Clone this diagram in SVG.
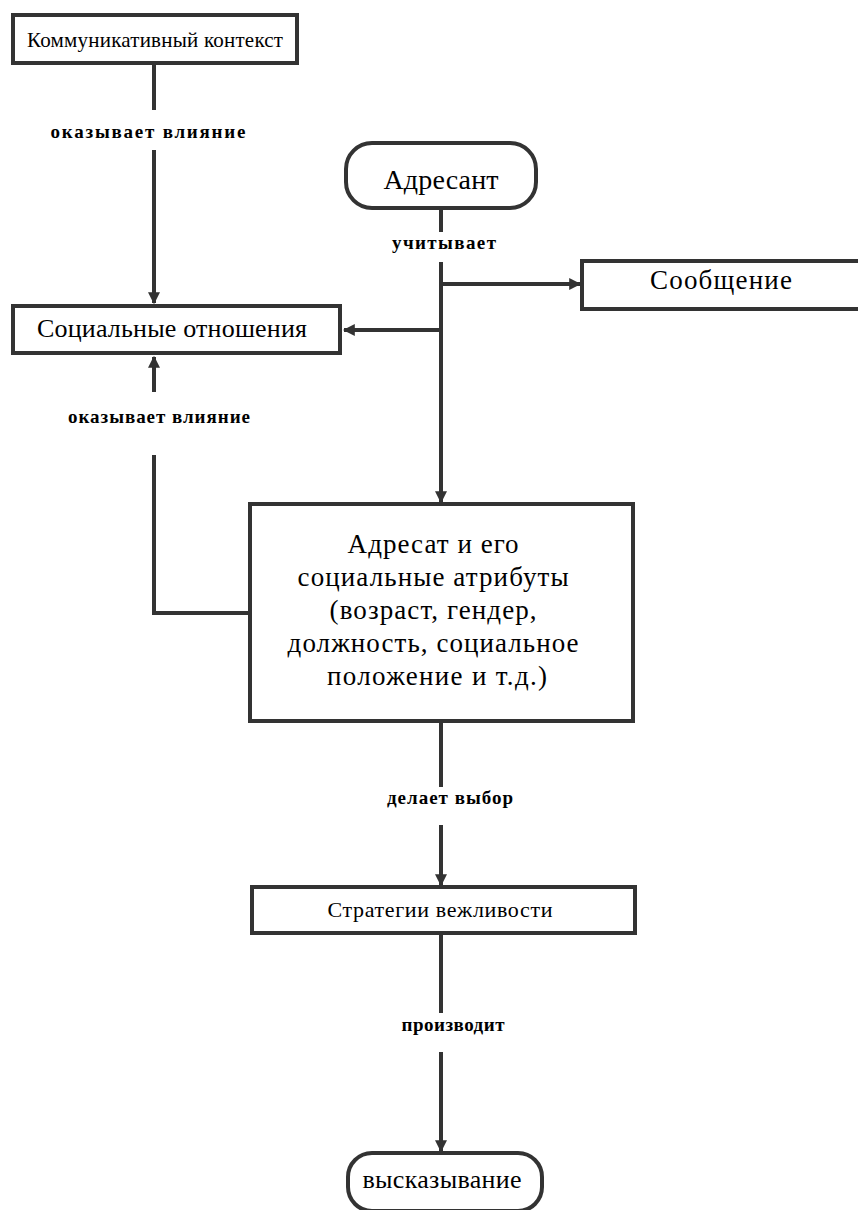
<svg xmlns="http://www.w3.org/2000/svg" width="858" height="1210" viewBox="0 0 858 1210">
<defs>
<marker id="ah" viewBox="0 0 10 10" refX="9" refY="5" markerWidth="3" markerHeight="3" orient="auto" markerUnits="strokeWidth">
<path d="M0,0 L10,5 L0,10 z" fill="#333"/>
</marker>
<style>
.box{fill:#fff;stroke:#333;stroke-width:4}
.t{fill:#000;text-anchor:middle}
.lb{font-weight:bold;fill:#000;text-anchor:middle;font-size:19px}
.c{fill:none;stroke:#333;stroke-width:4}
</style>
</defs>
<rect width="858" height="1210" fill="#fff"/>
<g font-family="'Liberation Serif', 'Times New Roman', 'DejaVu Serif', serif">
<g id="connectors">
<line class="c" x1="154" y1="63" x2="154" y2="110"/>
<line class="c" x1="154" y1="150" x2="154" y2="303" marker-end="url(#ah)"/>
<line class="c" x1="154" y1="392" x2="154" y2="357" marker-end="url(#ah)"/>
<polyline class="c" points="154,455 154,613 249,613"/>
<line class="c" x1="441" y1="208" x2="441" y2="232"/>
<line class="c" x1="441" y1="262" x2="441" y2="502" marker-end="url(#ah)"/>
<line class="c" x1="441" y1="284" x2="580" y2="284" marker-end="url(#ah)"/>
<line class="c" x1="441" y1="330" x2="344" y2="330" marker-end="url(#ah)"/>
<line class="c" x1="441" y1="722" x2="441" y2="787"/>
<line class="c" x1="441" y1="825" x2="441" y2="885" marker-end="url(#ah)"/>
<line class="c" x1="441" y1="933" x2="441" y2="1013"/>
<line class="c" x1="441" y1="1052" x2="441" y2="1151" marker-end="url(#ah)"/>
<text class="lb" x="148" y="138" textLength="195" lengthAdjust="spacing">оказывает  влияние</text>
<text class="lb" x="159" y="423" textLength="182" lengthAdjust="spacing">оказывает  влияние</text>
<text class="lb" x="444" y="249" textLength="104" lengthAdjust="spacing">учитывает</text>
<text class="lb" x="450" y="804" textLength="126" lengthAdjust="spacing">делает выбор</text>
<text class="lb" x="453" y="1031" textLength="103" lengthAdjust="spacing">производит</text>
</g>
<g id="n-context">
<rect class="box" x="13" y="15" width="284" height="48"/>
<text class="t" x="155" y="47" font-size="21" textLength="256" lengthAdjust="spacing">Коммуникативный  контекст</text>
</g>
<g id="n-social">
<rect class="box" x="13" y="306" width="327" height="47"/>
<text class="t" x="172" y="337" font-size="26" textLength="270" lengthAdjust="spacing">Социальные  отношения</text>
</g>
<g id="n-adresant">
<rect class="box" x="346" y="143" width="190" height="65" rx="26"/>
<text class="t" x="441" y="189" font-size="28" textLength="115" lengthAdjust="spacing">Адресант</text>
</g>
<g id="n-message">
<rect class="box" x="582" y="261" width="280" height="48"/>
<text class="t" x="721" y="289" font-size="27" textLength="142" lengthAdjust="spacing">Сообщение</text>
</g>
<g id="n-adresat">
<rect class="box" x="250" y="504" width="383" height="217"/>
<text class="t" font-size="27">
<tspan x="437" y="553" textLength="171" lengthAdjust="spacing">Адресат  и его</tspan>
<tspan x="437" y="586" textLength="271" lengthAdjust="spacing">социальные атрибуты</tspan>
<tspan x="437" y="619" textLength="207" lengthAdjust="spacing">(возраст, гендер,</tspan>
<tspan x="437" y="652" textLength="291" lengthAdjust="spacing">должность, социальное</tspan>
<tspan x="437" y="685" textLength="220" lengthAdjust="spacing">положение и т.д.)</tspan>
</text>
</g>
<g id="n-strategies">
<rect class="box" x="252" y="887" width="383" height="46"/>
<text class="t" x="440" y="917" font-size="22" textLength="225" lengthAdjust="spacing">Стратегии вежливости</text>
</g>
<g id="n-utterance">
<rect class="box" x="348" y="1153" width="194" height="58" rx="24"/>
<text class="t" x="442" y="1188" font-size="26" textLength="159" lengthAdjust="spacing">высказывание</text>
</g>
</g>
</svg>
